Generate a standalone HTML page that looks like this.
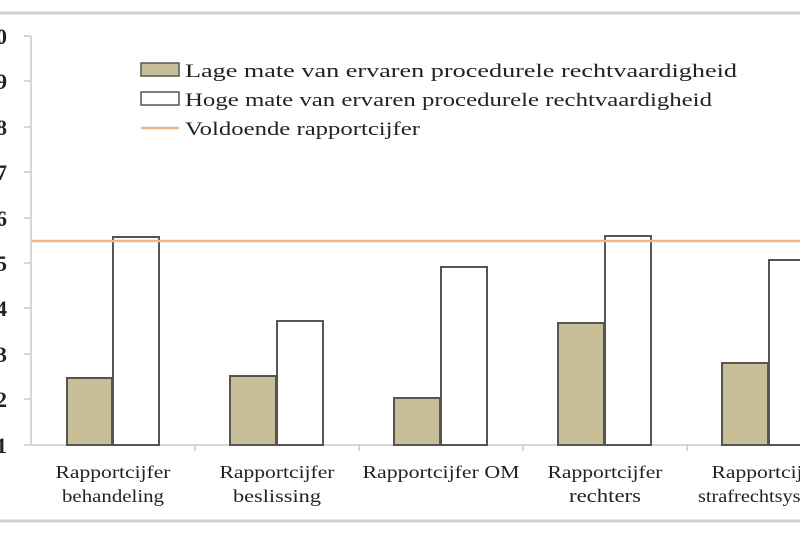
<!DOCTYPE html>
<html><head><style>body{margin:0;background:#fff}svg{display:block}</style></head><body>
<svg width="800" height="533" xmlns="http://www.w3.org/2000/svg" font-family="Liberation Serif, serif">
<rect x="-10" y="13" width="830" height="508" fill="#fff" stroke="#cfcfcf" stroke-width="3"/>
<g stroke="#c8c8c8" stroke-width="1.5">
<line x1="31" y1="36" x2="31" y2="445"/>
<line x1="24" y1="445" x2="800" y2="445"/>
<g>
<line x1="24" y1="36" x2="31" y2="36"/><line x1="24" y1="81" x2="31" y2="81"/><line x1="24" y1="127" x2="31" y2="127"/><line x1="24" y1="172" x2="31" y2="172"/><line x1="24" y1="218" x2="31" y2="218"/><line x1="24" y1="263" x2="31" y2="263"/><line x1="24" y1="308" x2="31" y2="308"/><line x1="24" y1="354" x2="31" y2="354"/><line x1="24" y1="399" x2="31" y2="399"/>
<line x1="195" y1="445" x2="195" y2="451"/><line x1="359" y1="445" x2="359" y2="451"/><line x1="523" y1="445" x2="523" y2="451"/><line x1="687" y1="445" x2="687" y2="451"/>
</g></g>
<g font-size="22" fill="#222" text-anchor="end" font-weight="bold">
<text x="7" y="44">10</text><text x="7" y="89">9</text><text x="7" y="135">8</text><text x="7" y="180">7</text><text x="7" y="226">6</text><text x="7" y="271">5</text><text x="7" y="316">4</text><text x="7" y="362">3</text><text x="7" y="407">2</text><text x="7" y="453">1</text>
</g>
<g stroke="#555" stroke-width="2">
<g fill="#c8bf98">
<rect x="67" y="378" width="45" height="67"/><rect x="230" y="376" width="46" height="69"/><rect x="394" y="398" width="46" height="47"/><rect x="558" y="323" width="46" height="122"/><rect x="722" y="363" width="46" height="82"/>
</g>
<g fill="#fff">
<rect x="113" y="237" width="46" height="208"/><rect x="277" y="321" width="46" height="124"/><rect x="441" y="267" width="46" height="178"/><rect x="605" y="236" width="46" height="209"/><rect x="769" y="260" width="46" height="185"/>
</g>
</g>
<line x1="32" y1="241" x2="800" y2="241" stroke="#f0b889" stroke-width="2.5"/>
<rect x="141" y="63" width="38" height="13" fill="#c8bf98" stroke="#555" stroke-width="1.5"/>
<rect x="141" y="92" width="38" height="13" fill="#fff" stroke="#555" stroke-width="1.5"/>
<line x1="141" y1="128" x2="179" y2="128" stroke="#f0b889" stroke-width="2.5"/>
<g font-size="19" fill="#222">
<text x="185" y="77" textLength="552" lengthAdjust="spacingAndGlyphs">Lage mate van ervaren procedurele rechtvaardigheid</text>
<text x="185" y="106" textLength="527" lengthAdjust="spacingAndGlyphs">Hoge mate van ervaren procedurele rechtvaardigheid</text>
<text x="185" y="135" textLength="235" lengthAdjust="spacingAndGlyphs">Voldoende rapportcijfer</text>
</g>
<g font-size="18" fill="#222" text-anchor="middle">
<text x="113" y="478" textLength="115" lengthAdjust="spacingAndGlyphs">Rapportcijfer</text><text x="113" y="502" textLength="102" lengthAdjust="spacingAndGlyphs">behandeling</text>
<text x="277" y="478" textLength="115" lengthAdjust="spacingAndGlyphs">Rapportcijfer</text><text x="277" y="502" textLength="88" lengthAdjust="spacingAndGlyphs">beslissing</text>
<text x="441" y="478" textLength="157" lengthAdjust="spacingAndGlyphs">Rapportcijfer OM</text>
<text x="605" y="478" textLength="115" lengthAdjust="spacingAndGlyphs">Rapportcijfer</text><text x="605" y="502" font-size="19" textLength="72" lengthAdjust="spacingAndGlyphs">rechters</text>
<text x="769" y="478" textLength="115" lengthAdjust="spacingAndGlyphs">Rapportcijfer</text><text x="769" y="502" textLength="142" lengthAdjust="spacingAndGlyphs">strafrechtsysteem</text>
</g>
</svg>
</body></html>
